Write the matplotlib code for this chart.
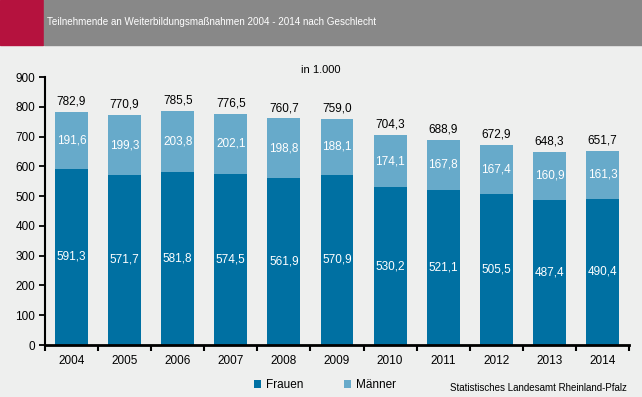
import matplotlib.pyplot as plt
import matplotlib.patches as mpatches
import numpy as np

plt.rcParams['font.family'] = ['Liberation Sans', 'DejaVu Sans']

years = ['2004', '2005', '2006', '2007', '2008', '2009', '2010', '2011', '2012', '2013', '2014']
frauen = [591.3, 571.7, 581.8, 574.5, 561.9, 570.9, 530.2, 521.1, 505.5, 487.4, 490.4]
maenner = [191.6, 199.3, 203.8, 202.1, 198.8, 188.1, 174.1, 167.8, 167.4, 160.9, 161.3]
totals = [782.9, 770.9, 785.5, 776.5, 760.7, 759.0, 704.3, 688.9, 672.9, 648.3, 651.7]

bg = '#eeefee'
c_fr = '#0070a2'
c_ma = '#67aaca'

def fmt(v):
    return ('%.1f' % v).replace('.', ',')

fig = plt.figure(figsize=(6.42, 3.97), dpi=100, facecolor=bg)

# header band
fig.patches.append(mpatches.Rectangle((0, 1 - 45 / 397), 43 / 642, 45 / 397,
                                      transform=fig.transFigure, color='#b5123e', zorder=0))
fig.patches.append(mpatches.Rectangle((44 / 642, 1 - 45 / 397), 1, 45 / 397,
                                      transform=fig.transFigure, color='#888888', zorder=0))
fig.text(47 / 642, 1 - 22 / 397, 'Teilnehmende an Weiterbildungsmaßnahmen 2004 - 2014 nach Geschlecht',
         color='white', fontsize=7.1, va='center', ha='left')

ax = fig.add_axes([45 / 642, 52 / 397, (629 - 45) / 642, (345 - 77) / 397])
ax.set_facecolor(bg)

x = np.arange(len(years))
w = 0.62
ax.bar(x, frauen, w, color=c_fr, label='Frauen', zorder=2)
ax.bar(x, maenner, w, bottom=frauen, color=c_ma, label='Männer', zorder=2)

for i in range(len(years)):
    ax.text(x[i], frauen[i] / 2, fmt(frauen[i]), color='white', ha='center', va='center', fontsize=8.5)
    ax.text(x[i], frauen[i] + maenner[i] / 2, fmt(maenner[i]), color='white', ha='center', va='center', fontsize=8.5)
    ax.text(x[i], totals[i] + 15, fmt(totals[i]), color='black', ha='center', va='bottom', fontsize=8.5)

ax.set_xlim(-0.5, len(years) - 0.5)
ax.set_ylim(0, 900)
ax.set_yticks(range(0, 901, 100))
ax.tick_params(axis='y', direction='out', length=4, width=1.3, labelsize=8.5, pad=3)

ax.set_xticks(x)
ax.set_xticklabels(years)
ax.set_xticks(np.arange(-0.5, len(years), 1), minor=True)
ax.tick_params(axis='x', which='major', length=0, labelsize=8.5, pad=7)
ax.tick_params(axis='x', which='minor', direction='out', length=4, width=1.5)

for s in ['top', 'right']:
    ax.spines[s].set_visible(False)
ax.spines['left'].set_linewidth(1.5)
ax.spines['bottom'].set_linewidth(2)

fig.text(321 / 642, 1 - 70 / 397, 'in 1.000', fontsize=8, ha='center', va='center')

leg = fig.legend(loc='center', bbox_to_anchor=(325 / 642, 1 - 385 / 397), ncol=2, frameon=False,
                 fontsize=8.5, handlelength=0.6, handleheight=0.6, columnspacing=3.5, handletextpad=0.4)

fig.text(450 / 642, 1 - 388 / 397, 'Statistisches Landesamt Rheinland-Pfalz', fontsize=7, ha='left', va='center')

fig.savefig('out.png', dpi=100, facecolor=bg)
